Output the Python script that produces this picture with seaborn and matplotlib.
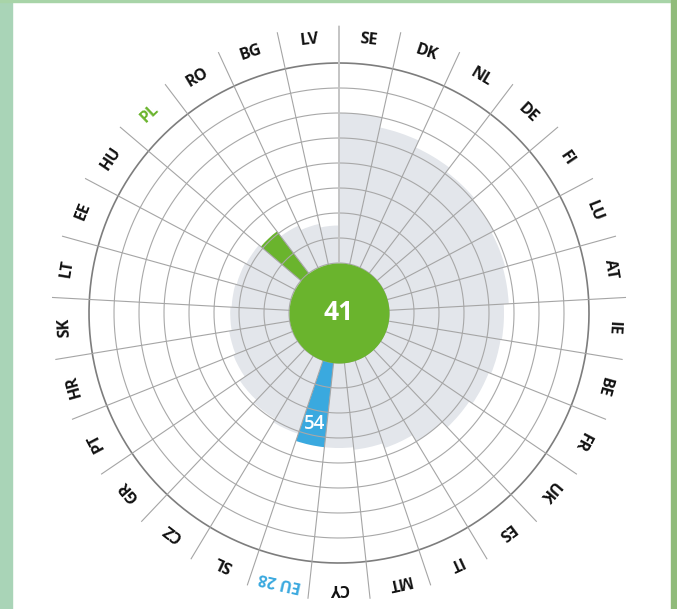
import numpy as np
import pandas as pd
import matplotlib
matplotlib.use("Agg")
import matplotlib.pyplot as plt
from matplotlib.patches import Rectangle
import seaborn as sns

# ---- data ----
countries = ["SE", "DK", "NL", "DE", "FI", "LU", "AT", "IE", "BE", "FR", "UK", "ES",
             "IT", "MT", "CY", "EU 28", "SL", "CZ", "GR", "PT", "HR", "SK", "LT",
             "EE", "HU", "PL", "RO", "BG", "LV"]
values = [80, 76, 73, 71, 70, 69, 68, 66, 65.5, 64.5, 63, 60,
          57, 55, 54, 54, 51, 49.5, 48, 45.5, 44.5, 43.5, 43,
          42.5, 42, 41, 38.5, 36.5, 35]
highlight_country = "PL"
eu_label = "EU 28"

# ---- colours ----
GRAY = "#e3e6eb"
GREEN = "#6ab42d"
BLUE = "#3aa9df"

sns.set_theme(style="white")
plt.rcParams["font.family"] = ["Open Sans", "DejaVu Sans"]

n = len(countries)
step = 2 * np.pi / n
theta = (np.arange(n) + 0.5) * step

df = pd.DataFrame({"theta": theta, "value": values, "country": countries})
palette = {c: (GREEN if c == highlight_country else BLUE if c == eu_label else GRAY)
           for c in countries}

W, H = 677, 609
fig = plt.figure(figsize=(W / 100, H / 100), dpi=100, facecolor="white")

# page border strips
fig.add_artist(Rectangle((0, 0), 12 / W, 1, transform=fig.transFigure,
                         color="#a9d4b7", zorder=0))
fig.add_artist(Rectangle((0, 1 - 2 / H), 1, 2 / H, transform=fig.transFigure,
                         color="#a8d4a8", zorder=0))
fig.add_artist(Rectangle((1 - 6 / W, 0), 6 / W, 1, transform=fig.transFigure,
                         color="#90bb7a", zorder=0))

cx, cy = 339, 313
RMAX = 115
rpx = 287.5
ax = fig.add_axes([(cx - rpx) / W, (H - cy - rpx) / H, 2 * rpx / W, 2 * rpx / H],
                  projection="polar")
ax.set_facecolor("none")
ax.set_theta_zero_location("N")
ax.set_theta_direction(-1)

sns.barplot(data=df, x="theta", y="value", hue="country", palette=palette,
            hue_order=countries, native_scale=True, width=1.0, dodge=False,
            legend=False, linewidth=0, saturation=1, ax=ax, zorder=1)

ax.set_ylim(0, RMAX)
ax.set_xticks([])
ax.set_yticks([])
ax.grid(False)
ax.spines["polar"].set_visible(False)
ax.set_xlabel("")
ax.set_ylabel("")

# rings
tt = np.linspace(0, 2 * np.pi, 400)
for r in range(10, 100, 10):
    ax.plot(tt, np.full_like(tt, r), color="#a8a8a8", lw=0.8, zorder=3)
ax.plot(tt, np.full_like(tt, 100), color="#7d7d7d", lw=1.2, zorder=3)

# radial lines
for k in range(n):
    a = k * step
    if k == 0:
        ax.plot([a, a], [0, RMAX], color="#c4c4c4", lw=1.4, zorder=3)
    else:
        ax.plot([a, a], [0, RMAX], color="#a5a5a5", lw=0.8, zorder=3)

# centre disc
ax.fill_between(tt, 0, 20, color=GREEN, lw=0, zorder=5)
center_val = values[countries.index(highlight_country)]
ax.text(0, 0, f"{center_val:g}", color="white", fontsize=19, fontweight="bold",
        ha="center", va="center", zorder=6)

# EU value label
ei = countries.index(eu_label)
ax.text(theta[ei], 45.5, f"{values[ei]:g}", color="white", fontsize=13.5,
        fontweight="semibold", ha="center", va="center", zorder=6)

# country labels
for c, t in zip(countries, theta):
    deg = np.degrees(t)
    col = GREEN if c == highlight_country else BLUE if c == eu_label else "#111111"
    ax.text(t, 110, c, rotation=-deg, rotation_mode="anchor", ha="center",
            va="center", fontsize=11.5, fontweight="bold", color=col, zorder=6)

fig.savefig("out.png", dpi=100, facecolor=fig.get_facecolor())
